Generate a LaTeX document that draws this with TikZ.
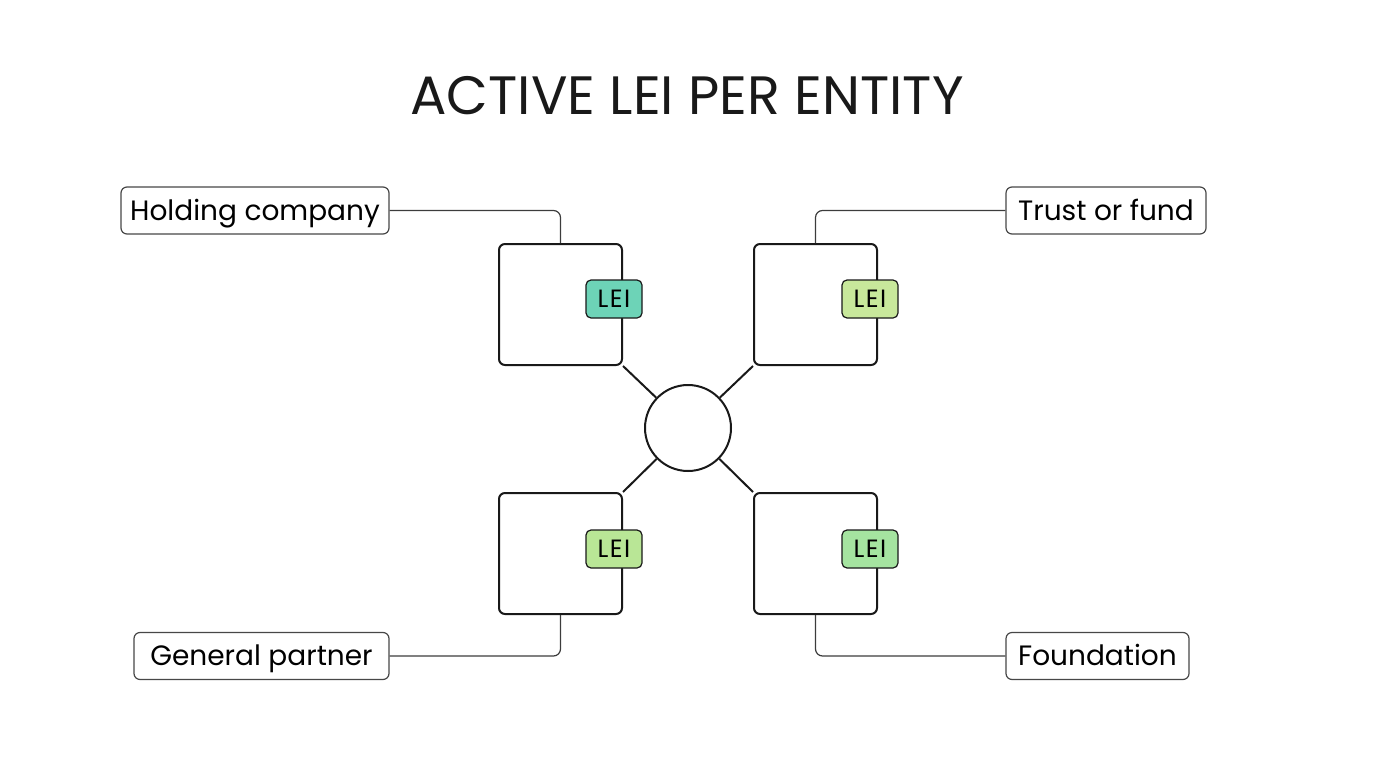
\documentclass[tikz,border=0pt]{standalone}
\usepackage{fontspec}
\setmainfont{Poppins}
\usepackage{tikz}
\definecolor{leiteal}{RGB}{109,211,183}
\definecolor{leilime}{RGB}{200,232,155}
\definecolor{leigreen}{RGB}{185,230,150}
\definecolor{leimint}{RGB}{165,228,160}
\definecolor{ink}{RGB}{25,25,25}

\begin{document}
\begin{tikzpicture}[x=1pt,y=-1pt,
    entity/.style={draw=ink,line width=2pt,rounded corners=6pt,fill=white,
      minimum width=123pt,minimum height=121pt,inner sep=0pt},
    hub/.style={draw=ink,line width=2pt,circle,minimum size=86pt,inner sep=0pt},
    badge/.style={draw=ink,line width=1.2pt,rounded corners=5pt,
      minimum width=56pt,minimum height=38pt,inner sep=0pt,
      text height=17.5pt,text depth=0pt,
      font=\fontsize{25}{28}\selectfont\addfontfeatures{LetterSpace=6}},
    tag/.style={draw=ink!80,line width=1.2pt,rounded corners=6pt,fill=white,
      minimum height=47pt,inner xsep=9pt,text height=19.5pt,text depth=0pt,
      font=\fontsize{28}{32}\selectfont},
    callout/.style={draw=ink!85,line width=1.2pt,rounded corners=7pt},
    spoke/.style={draw=ink,line width=2pt}]
  \useasboundingbox (0,0) rectangle (1376,768);
  \node[font=\fontsize{54}{62}\selectfont,text=ink] (title) at (687,96) {ACTIVE LEI PER ENTITY};

  % entities round the hub
  \node[hub] (hub) at (688,428) {};
  \node[entity] (holdbox) at (560.5,304.5) {};
  \node[entity] (trustbox) at (815.5,304.5) {};
  \node[entity] (gpbox) at (560.5,553.5) {};
  \node[entity] (foundbox) at (815.5,553.5) {};
  \draw[spoke] (holdbox.south east) -- (hub);
  \draw[spoke] (trustbox.south west) -- (hub);
  \draw[spoke] (gpbox.north east) -- (hub);
  \draw[spoke] (foundbox.north west) -- (hub);

  % LEI badges on the right edge
  \node[badge,fill=leiteal] (leihold) at (614,299) {LEI};
  \node[badge,fill=leilime] (leitrust) at (870,299) {LEI};
  \node[badge,fill=leigreen] (leigp) at (614,549) {LEI};
  \node[badge,fill=leimint] (leifound) at (870,549) {LEI};

  % labels and callouts
  \node[tag,minimum width=268pt] (hold) at (255,210.5) {Holding company};
  \node[tag,minimum width=200pt] (trust) at (1106,210.5) {Trust or fund};
  \node[tag,minimum width=255pt] (gp) at (261.5,656) {General partner};
  \node[tag,minimum width=183pt] (found) at (1097.5,656) {Foundation};
  \draw[callout] (hold.east) -| (holdbox.north);
  \draw[callout] (trust.west) -| (trustbox.north);
  \draw[callout] (gp.east) -| (gpbox.south);
  \draw[callout] (found.west) -| (foundbox.south);
\end{tikzpicture}
\end{document}
